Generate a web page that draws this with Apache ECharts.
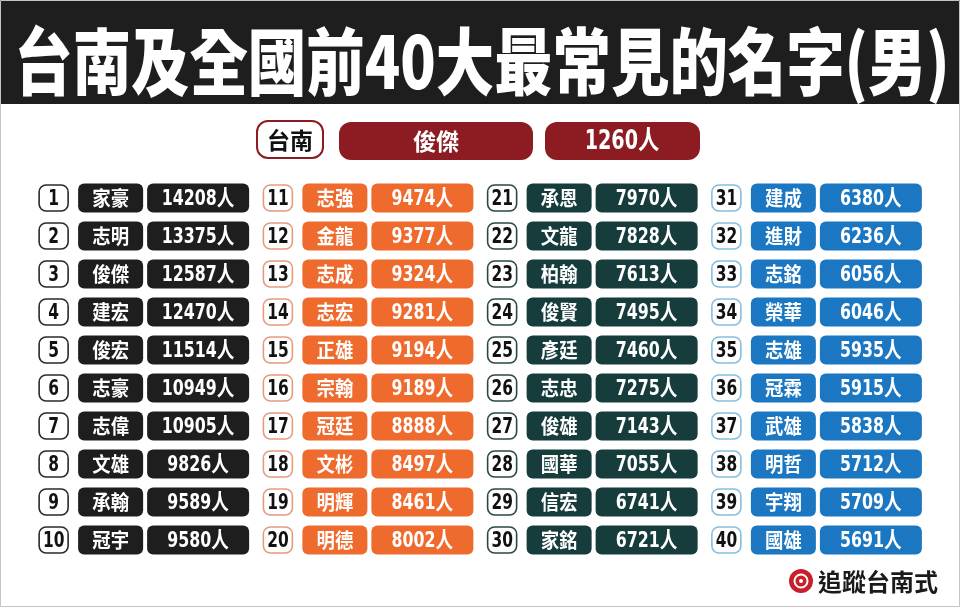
<!DOCTYPE html>
<html>
<head>
<meta charset="utf-8">
<script src="https://cdn.jsdelivr.net/npm/echarts@6/dist/echarts.min.js"></script>
<style>
  html, body { margin: 0; padding: 0; background: #fff; }
  #chart { width: 960px; height: 607px; }
</style>
</head>
<body>
<div id="chart"></div>
<script>
// 標題與台南第一名
var titleText = "台南及全國前40大最常見的名字(男)";
var cityLabel = "台南";
var cityTopName = "俊傑";
var cityTopCount = 1260;

// 全國前40名
var names = [
  "家豪", "志明", "俊傑", "建宏", "俊宏", "志豪", "志偉", "文雄", "承翰", "冠宇",
  "志強", "金龍", "志成", "志宏", "正雄", "宗翰", "冠廷", "文彬", "明輝", "明德",
  "承恩", "文龍", "柏翰", "俊賢", "彥廷", "志忠", "俊雄", "國華", "信宏", "家銘",
  "建成", "進財", "志銘", "榮華", "志雄", "冠霖", "武雄", "明哲", "宇翔", "國雄"
];
var counts = [
  14208, 13375, 12587, 12470, 11514, 10949, 10905, 9826, 9589, 9580,
  9474, 9377, 9324, 9281, 9194, 9189, 8888, 8497, 8461, 8002,
  7970, 7828, 7613, 7495, 7460, 7275, 7143, 7055, 6741, 6721,
  6380, 6236, 6056, 6046, 5935, 5915, 5838, 5712, 5709, 5691
];
var columns = ["1-10", "11-20", "21-30", "31-40"];
var rows = ["1", "2", "3", "4", "5", "6", "7", "8", "9", "10"];

var fillColors = ["#1e1e1e", "#ef6a2d", "#173c3c", "#1b77c2"];
var outlineColors = ["#2a2a2a", "#e69a82", "#2b4848", "#86bfdc"];

var cjk = "'Noto Sans CJK TC', 'Noto Sans CJK SC', sans-serif";
var narrow = "'Liberation Sans Narrow', 'DejaVu Sans Condensed', 'Noto Sans CJK TC', sans-serif";

var seriesData = names.map(function (n, i) {
  return [Math.floor(i / 10), i % 10, counts[i]];
});

function renderCell(params, api) {
  var i = params.dataIndex;
  var col = api.value(0);
  var c = api.coord([col, api.value(1)]);
  var cx = c[0], cy = c[1];
  var fill = fillColors[col];
  return {
    type: "group",
    children: [
      {
        type: "rect",
        shape: { x: cx - 105, y: cy - 13, width: 29, height: 26, r: 7 },
        style: { fill: "#fff", stroke: outlineColors[col], lineWidth: 1.6 }
      },
      {
        type: "text",
        x: cx - 90.5, y: cy + 1, scaleX: 0.78,
        style: {
          x: 0, y: 0, text: String(i + 1),
          textAlign: "center", textVerticalAlign: "middle",
          font: "bold 22px " + narrow, fill: "#111"
        }
      },
      {
        type: "rect",
        shape: { x: cx - 66, y: cy - 14.5, width: 65, height: 29, r: 6 },
        style: { fill: fill }
      },
      {
        type: "text",
        x: cx - 33.5, y: cy, scaleX: 0.92,
        style: {
          x: 0, y: 0, text: names[i],
          textAlign: "center", textVerticalAlign: "middle",
          font: "bold 20px " + cjk, fill: "#fff"
        }
      },
      {
        type: "rect",
        shape: { x: cx + 3, y: cy - 14.5, width: 102, height: 29, r: 6 },
        style: { fill: fill }
      },
      {
        type: "text",
        x: cx + 54, y: cy + 1, scaleX: 0.8,
        style: {
          x: 0, y: 0, text: counts[i] + "人",
          textAlign: "center", textVerticalAlign: "middle",
          font: "bold 22px " + narrow, fill: "#fff"
        }
      }
    ]
  };
}

var chart = echarts.init(document.getElementById("chart"));

var option = {
  backgroundColor: "#fff",
  animation: false,
  grid: { left: 32, right: 31, top: 179, height: 380 },
  xAxis: { type: "category", data: columns, show: false },
  yAxis: { type: "category", data: rows, inverse: true, show: false },
  graphic: [
    {
      type: "rect",
      shape: { x: 0, y: 0, width: 960, height: 104 },
      style: { fill: "#1e1e1e" }
    },
    {
      type: "text",
      x: 482, y: 61, scaleX: 0.8,
      style: {
        text: titleText, textAlign: "center", textVerticalAlign: "middle",
        font: "900 73px " + cjk, fill: "#fff"
      }
    },
    {
      type: "rect",
      shape: { x: 257, y: 121, width: 66, height: 37, r: 11 },
      style: { fill: "#fff", stroke: "#8c1c22", lineWidth: 2 }
    },
    {
      type: "text",
      x: 290, y: 140,
      style: {
        text: cityLabel, textAlign: "center", textVerticalAlign: "middle",
        font: "bold 23px " + cjk, fill: "#111"
      }
    },
    {
      type: "rect",
      shape: { x: 339, y: 122, width: 194, height: 38, r: 12 },
      style: { fill: "#8c1c22" }
    },
    {
      type: "text",
      x: 436, y: 141,
      style: {
        text: cityTopName, textAlign: "center", textVerticalAlign: "middle",
        font: "bold 23px " + cjk, fill: "#fff"
      }
    },
    {
      type: "rect",
      shape: { x: 545, y: 122, width: 155, height: 38, r: 12 },
      style: { fill: "#8c1c22" }
    },
    {
      type: "text",
      x: 622, y: 142, scaleX: 0.82,
      style: {
        text: cityTopCount + "人", textAlign: "center", textVerticalAlign: "middle",
        font: "bold 26px " + narrow, fill: "#fff"
      }
    },
    {
      type: "circle",
      shape: { cx: 801, cy: 581, r: 12 },
      style: { fill: "#c8202a" }
    },
    {
      type: "circle",
      shape: { cx: 801, cy: 581, r: 6.5 },
      style: { fill: "none", stroke: "#fff", lineWidth: 2 }
    },
    {
      type: "circle",
      shape: { cx: 801, cy: 581, r: 2 },
      style: { fill: "#fff" }
    },
    {
      type: "text",
      x: 818, y: 582,
      style: {
        text: "追蹤台南式", textAlign: "left", textVerticalAlign: "middle",
        font: "bold 24px " + cjk, fill: "#1a1a1a"
      }
    },
    {
      type: "rect",
      shape: { x: 0.5, y: 0.5, width: 959, height: 606 },
      style: { fill: "none", stroke: "#c4c4c4", lineWidth: 1 }
    }
  ],
  series: [
    {
      type: "custom",
      renderItem: renderCell,
      data: seriesData,
      silent: true
    }
  ]
};

chart.setOption(option);
</script>
</body>
</html>
